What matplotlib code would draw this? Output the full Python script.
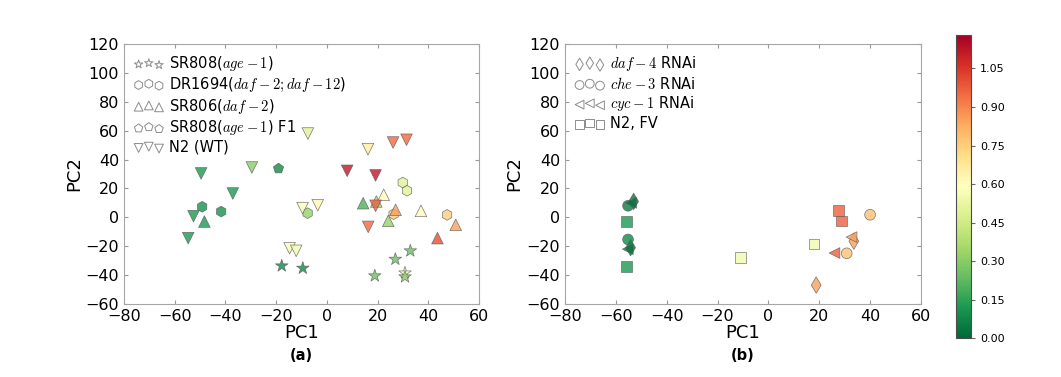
import matplotlib
matplotlib.use("Agg")
import matplotlib.pyplot as plt
import numpy as np

plt.rcParams['mathtext.fontset'] = 'cm'
plt.rcParams['font.family'] = ['DejaVu Sans']

# ---------------- Panel (a) data ----------------
a_labels = ["SR808($age-1$)", "DR1694($daf-2; daf-12$)", "SR806($daf-2$)",
            "SR808($age-1$) F1", "N2 (WT)"]
a_markers = ["*", "h", "^", "p", "v"]

star_x = [-17.8, -9.5, 32.9, 27.0, 18.9, 30.8, 30.8]
star_y = [-33.6, -35.2, -23.2, -29.0, -40.5, -38.5, -41.2]
star_c = [0.08, 0.08, 0.25, 0.25, 0.25, 0.55, 0.30]

hex_x = [-49.2, -41.7, -7.6, 29.9, 31.6, 26.3, 47.4]
hex_y = [7.3, 4.0, 2.9, 24.1, 18.4, 2.2, 1.7]
hex_c = [0.10, 0.10, 0.33, 0.50, 0.50, 0.75, 0.75]

tri_x = [-48.3, 14.3, 19.5, 22.4, 27.1, 37.1, 50.8, 24.2, 43.6]
tri_y = [-2.9, 9.8, 11.0, 15.6, 5.2, 4.5, -5.2, -2.4, -14.4]
tri_c = [0.12, 0.20, 0.35, 0.60, 0.85, 0.60, 0.85, 0.33, 1.00]

pent_x = [-19.2]
pent_y = [34.0]
pent_c = [0.08]

n2_x = [-49.6, -29.6, -37.1, -52.6, -54.7, -9.6, -3.6, -14.7, -12.1,
        8.0, 19.2, 16.2, -7.5, 26.1, 31.4, 19.2, 16.3]
n2_y = [30.4, 34.5, 16.5, 0.8, -14.4, 6.4, 8.4, -21.4, -23.2,
        32.2, 29.0, 47.2, 58.0, 51.8, 53.7, 8.0, -6.6]
n2_c = [0.12, 0.30, 0.12, 0.12, 0.12, 0.58, 0.62, 0.57, 0.55,
        1.12, 1.12, 0.65, 0.50, 0.95, 0.95, 0.97, 0.95]

# ---------------- Panel (b) data ----------------
b_labels = ["$daf-4$ RNAi", "$che-3$ RNAi", "$cyc-1$ RNAi", "N2, FV"]
b_markers = ["d", "o", "<", "s"]

daf4_x = [-53.0, -54.2, 33.6, 18.8]
daf4_y = [11.0, -21.0, -16.5, -46.9]
daf4_c = [0.03, 0.03, 0.85, 0.85]

che3_x = [-55.2, -55.2, 40.0, 30.8]
che3_y = [8.0, -15.3, 1.8, -24.9]
che3_c = [0.05, 0.08, 0.78, 0.78]

cyc1_x = [-54.0, -55.3, 32.7, 26.0]
cyc1_y = [10.0, -22.0, -13.7, -24.7]
cyc1_c = [0.03, 0.03, 0.85, 0.97]

fv_x = [-55.9, -55.9, -11.1, 17.9, 27.6, 28.9]
fv_y = [-3.0, -33.9, -27.9, -18.5, 4.6, -2.5]
fv_c = [0.12, 0.12, 0.55, 0.55, 0.97, 0.97]

cbar_ticks = [0.00, 0.15, 0.30, 0.45, 0.60, 0.75, 0.90, 1.05]
vmin, vmax = 0.0, 1.18

cmap = plt.cm.RdYlGn_r
fig = plt.figure(figsize=(10.61, 3.77), dpi=100)
ax_a = fig.add_axes([0.1169, 0.1936, 0.3346, 0.6897])
ax_b = fig.add_axes([0.5325, 0.1936, 0.3355, 0.6897])
cax = fig.add_axes([0.901, 0.1027, 0.0144, 0.8045])

a_sets = [(star_x, star_y, star_c, 90), (hex_x, hex_y, hex_c, 60),
          (tri_x, tri_y, tri_c, 70), (pent_x, pent_y, pent_c, 60),
          (n2_x, n2_y, n2_c, 70)]
b_sets = [(daf4_x, daf4_y, daf4_c, 70), (che3_x, che3_y, che3_c, 60),
          (cyc1_x, cyc1_y, cyc1_c, 60), (fv_x, fv_y, fv_c, 60)]

def draw(ax, sets, markers, labels):
    sc = None
    for (x, y, c, s), m in zip(sets, markers):
        sc = ax.scatter(x, y, c=c, cmap=cmap, vmin=vmin, vmax=vmax, marker=m,
                        s=s, alpha=0.8, edgecolors='0.35', linewidths=0.5, zorder=3)
    handles = []
    for m in markers:
        handles.append(ax.scatter([], [], marker=m, s=40, facecolors='none',
                                  edgecolors='0.55', linewidths=0.7))
    ax.legend(handles, labels, loc='upper left', scatterpoints=3,
              scatteryoffsets=[0.375, 0.5, 0.3125], frameon=False,
              fontsize=10.5, handletextpad=0.4, labelspacing=0.18,
              borderaxespad=0.3, handlelength=2.0)
    ax.set_xlim(-80, 60)
    ax.set_ylim(-60, 120)
    ax.set_xticks(np.arange(-80, 61, 20))
    ax.set_yticks(np.arange(-60, 121, 20))
    ax.tick_params(direction='in', top=True, right=True, labelsize=11.5,
                   color='0.6', length=3)
    for sp in ax.spines.values():
        sp.set_color('0.65')
    ax.set_xlabel("PC1", fontsize=13, labelpad=0)
    ax.set_ylabel("PC2", fontsize=13, labelpad=2)
    return sc

sc = draw(ax_a, a_sets, a_markers, a_labels)
draw(ax_b, b_sets, b_markers, b_labels)

ax_a.text(0.5, -0.17, "(a)", transform=ax_a.transAxes, ha='center', va='top',
          fontsize=10.5, fontweight='bold')
ax_b.text(0.5, -0.17, "(b)", transform=ax_b.transAxes, ha='center', va='top',
          fontsize=10.5, fontweight='bold')

sm = plt.cm.ScalarMappable(cmap=cmap, norm=plt.Normalize(vmin, vmax))
cb = fig.colorbar(sm, cax=cax, ticks=cbar_ticks)
cb.ax.set_yticklabels([f"{t:.2f}" for t in cbar_ticks])
cb.ax.tick_params(labelsize=8, length=3, color='0.4')
cb.outline.set_edgecolor('0.3')

fig.savefig("out.png", dpi=100)
